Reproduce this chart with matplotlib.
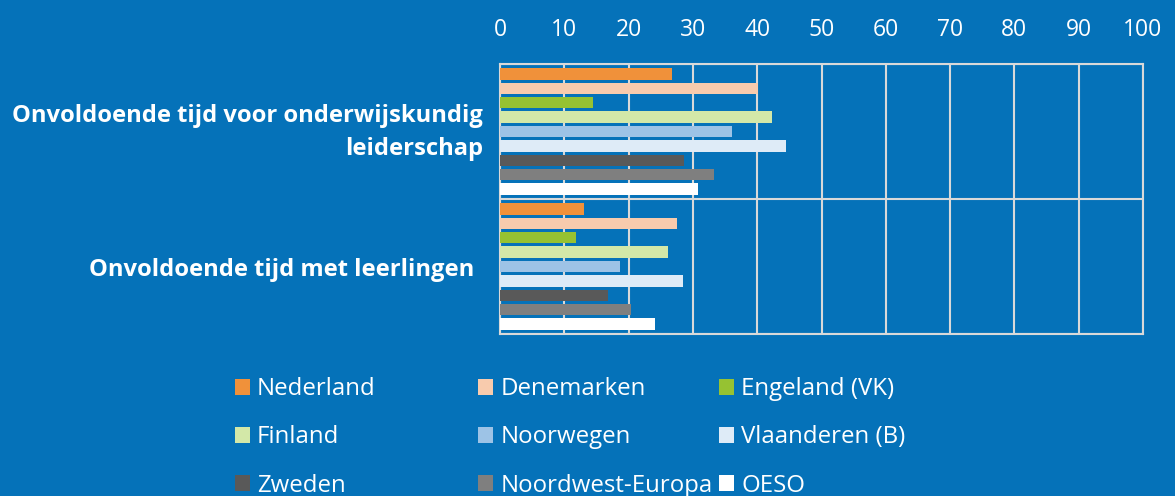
import matplotlib
matplotlib.use("Agg")
import matplotlib.pyplot as plt
import matplotlib.transforms as mtransforms
from matplotlib.patches import Patch

plt.rcParams["font.family"] = ["Open Sans", "DejaVu Sans"]

BG = "#0572B9"
GRID = "#D9D9D9"

CATEGORIES = ["Onvoldoende tijd voor onderwijskundig\nleiderschap",
              "Onvoldoende tijd met leerlingen"]
SERIES = ["Nederland", "Denemarken", "Engeland (VK)", "Finland", "Noorwegen",
          "Vlaanderen (B)", "Zweden", "Noordwest-Europa", "OESO"]
COLORS = ["#F0913A", "#F8CBAD", "#96C232", "#D3E8A8", "#9DC3E6",
          "#DEEBF7", "#595959", "#7F7F7F", "#FFFFFF"]
leiderschap = [26.8, 40.1, 14.5, 42.3, 36.1, 44.5, 28.6, 33.3, 30.8]
leerlingen = [13.0, 27.5, 11.8, 26.2, 18.6, 28.5, 16.8, 20.4, 24.1]
VALUES = list(zip(leiderschap, leerlingen))
TICKS = list(range(0, 101, 10))

fig = plt.figure(figsize=(11.75, 4.96), dpi=100, facecolor=BG)
ax = fig.add_axes([0.4255, 0.3266, 0.5473, 0.5444], facecolor=BG)

step = 0.1067
for j, (name, col, vals) in enumerate(zip(SERIES, COLORS, VALUES)):
    ys = [i + (j - 4) * step for i in range(len(CATEGORIES))]
    ax.barh(ys, vals, height=0.085, color=col, label=name, zorder=3)

ax.set_xlim(0, 100)
ax.set_ylim(1.5, -0.5)
ax.set_xticks(TICKS)
ax.xaxis.tick_top()
ax.tick_params(axis="x", length=0, pad=16, labelsize=16.5, labelcolor="white")
ax.set_yticks([-0.5, 0.5, 1.5], minor=True)
ax.set_yticks([0, 1])
ax.set_yticklabels(CATEGORIES, fontsize=17.1, fontweight="bold", color="white",
                   ha="right", linespacing=1.45)
ax.tick_params(axis="y", length=0, pad=12)
# nudge labels to match the original placement
lbls = ax.get_yticklabels()
for lbl, (dx, dy) in zip(lbls, [(0, 0.06), (-0.09, 0)]):
    shift = mtransforms.ScaledTranslation(dx, dy, fig.dpi_scale_trans)
    lbl.set_transform(lbl.get_transform() + shift)
ax.grid(axis="x", color=GRID, lw=1.5, zorder=1)
ax.grid(axis="y", which="minor", color=GRID, lw=1.5, zorder=1)
ax.tick_params(axis="y", which="minor", length=0)
for s in ax.spines.values():
    s.set_color(GRID)
    s.set_linewidth(1.5)

# legend: three columns with fixed positions
handles = [Patch(facecolor=c, label=n) for n, c in zip(SERIES, COLORS)]
col_x = [0.2, 0.407, 0.612]
for k, x in enumerate(col_x):
    hs = handles[k::3]
    fig.legend(handles=hs, loc="upper left", bbox_to_anchor=(x, 0.239),
               frameon=False, fontsize=17.3, labelcolor="white",
               handlelength=0.62, handleheight=0.62, handletextpad=0.3,
               labelspacing=1.0, borderaxespad=0, borderpad=0)

fig.savefig("out.png", dpi=100, facecolor=BG)
